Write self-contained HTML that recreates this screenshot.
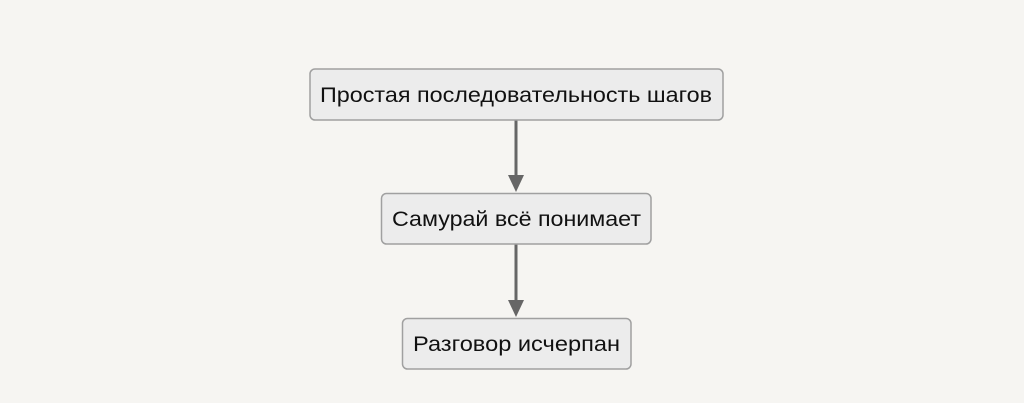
<!DOCTYPE html>
<html><head><meta charset="utf-8"><style>
html,body{margin:0;padding:0;background:#f6f5f2;}
svg{display:block;}
text{font-family:"Liberation Sans","DejaVu Sans",sans-serif;font-size:21px;fill:#111;}
</style></head><body>
<svg width="1024" height="403" viewBox="0 0 1024 403">
<rect width="1024" height="403" fill="#f6f5f2"/>
<g stroke="#666" stroke-width="3">
<line x1="516" y1="120" x2="516" y2="178"/>
<line x1="516" y1="244" x2="516" y2="302"/>
</g>
<g fill="#666">
<polygon points="508,175 524,175 516,192"/>
<polygon points="508,300 524,300 516,317"/>
</g>
<g fill="#ececec" stroke="#a0a0a0" stroke-width="1.5">
<rect x="310" y="69" width="413" height="51" rx="5"/>
<rect x="381.5" y="193.5" width="269.5" height="50.5" rx="5"/>
<rect x="402.5" y="318.5" width="228.5" height="50.5" rx="5"/>
</g>
<text x="320" y="102" textLength="392" lengthAdjust="spacingAndGlyphs">Простая последовательность шагов</text>
<text x="392" y="226" textLength="249" lengthAdjust="spacingAndGlyphs">Самурай всё понимает</text>
<text x="413" y="351" textLength="207" lengthAdjust="spacingAndGlyphs">Разговор исчерпан</text>
</svg>
</body></html>
